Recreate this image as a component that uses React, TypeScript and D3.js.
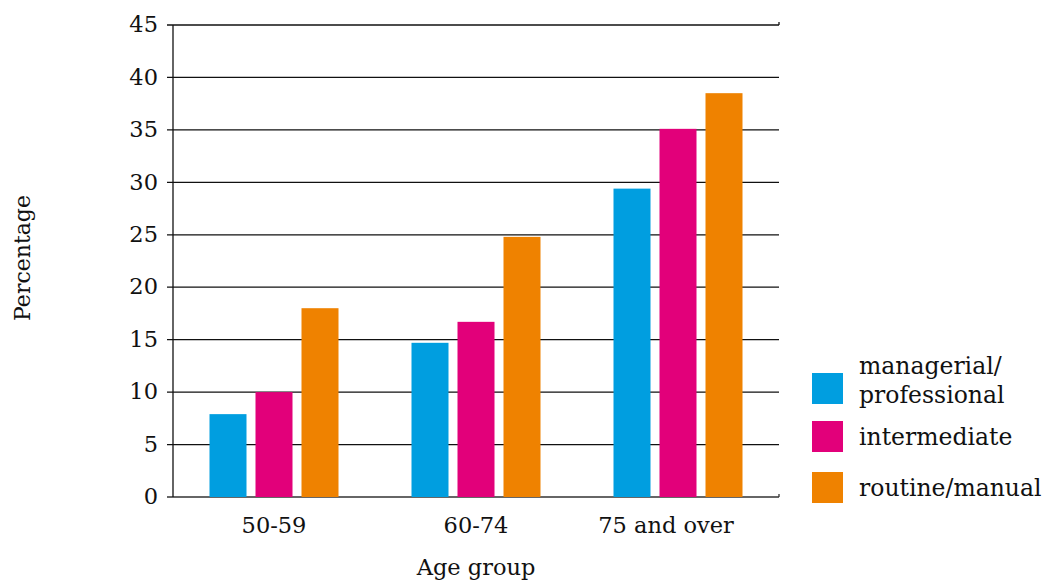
import React from "react";
import * as d3 from "d3";

const categories = ["50-59", "60-74", "75 and over"];
const seriesNames = ["managerial/professional", "intermediate", "routine/manual"];
const legendLines = [["managerial/", "professional"], ["intermediate"], ["routine/manual"]];
const managerial = [7.9, 14.7, 29.4];
const intermediate = [10.0, 16.7, 35.1];
const routine = [18.0, 24.8, 38.5];
const colors = ["#009EE0", "#E2007A", "#EF8200"];
const yTicks = [0, 5, 10, 15, 20, 25, 30, 35, 40, 45];

const W = 1046, H = 580;
const left = 173, right = 779, top = 25, bottom = 497;
const font = "'DejaVu Serif', Georgia, serif";

export default function App() {
  const series = [managerial, intermediate, routine];
  const x = d3.scaleBand<string>().domain(categories).range([left, right]);
  const y = d3.scaleLinear().domain([0, 45]).range([bottom, top]);
  const step = 46, bw = 37;
  return (
    <svg width={W} height={H} style={{ position: "absolute", left: 0, top: 0 }} fontFamily={font}>
      {yTicks.map((t) => (
        <g key={t}>
          <line x1={left - 6} x2={right} y1={y(t)} y2={y(t)} stroke={t === 0 ? "#333" : "#111"} strokeWidth={1.3} />
          <text x={158} y={y(t)} dy="0.32em" textAnchor="end" fontSize={22.5} fill="#111">{t}</text>
        </g>
      ))}
      <line x1={right} x2={right} y1={y(45) - 3} y2={y(45)} stroke="#111" strokeWidth={1.3} />
      <line x1={right} x2={right} y1={y(0) - 3} y2={y(0)} stroke="#333" strokeWidth={1.3} />
      <line x1={left} x2={left} y1={y(45)} y2={y(0)} stroke="#111" strokeWidth={1.3} />
      {categories.map((c, i) => {
        const cx = (x(c) as number) + x.bandwidth() / 2;
        return (
          <g key={c}>
            {series.map((s, j) => (
              <rect key={j} x={cx + (j - 1) * step - bw / 2} y={y(s[i])} width={bw} height={y(0) - y(s[i])} fill={colors[j]} />
            ))}
            <text x={cx - (i === 2 ? 12 : 0)} y={533} textAnchor="middle" fontSize={22.5} fill="#111">{c}</text>
          </g>
        );
      })}
      <text transform="translate(30,258) rotate(-90)" textAnchor="middle" fontSize={22} fill="#111">Percentage</text>
      <text x={476} y={575} textAnchor="middle" fontSize={22.5} fill="#111">Age group</text>
      {seriesNames.map((n, j) => {
        const ys = [373, 421, 472][j];
        const lines = legendLines[j];
        return (
          <g key={n}>
            <rect x={812} y={ys} width={31} height={31} fill={colors[j]} />
            {lines.map((l, k) => (
              <text key={k} x={859} y={lines.length === 2 ? 374 + k * 29 : ys + 24} fontSize={23.5} fill="#111">{l}</text>
            ))}
          </g>
        );
      })}
    </svg>
  );
}
